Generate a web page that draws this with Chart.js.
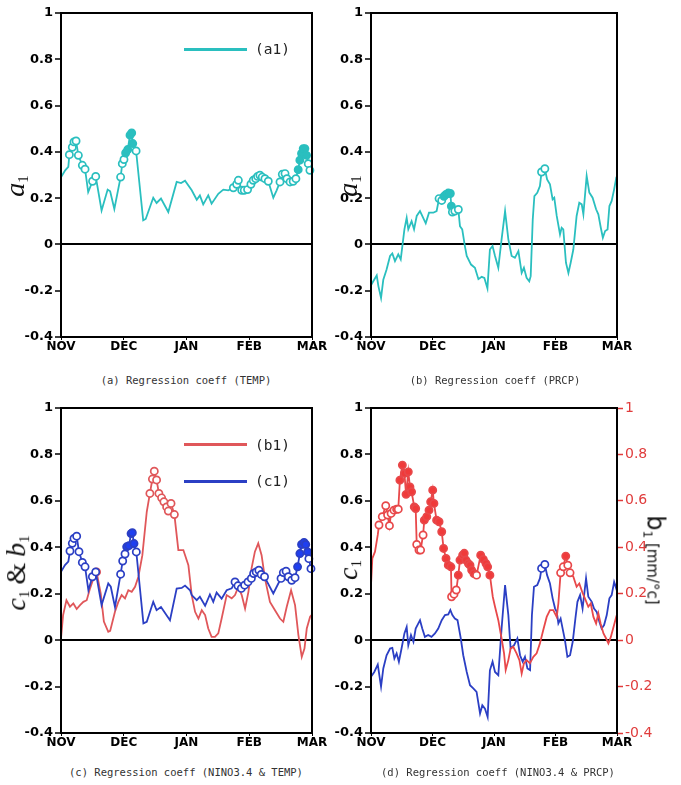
<!DOCTYPE html>
<html>
<head>
<meta charset="utf-8">
<script src="https://cdn.jsdelivr.net/npm/chart.js@4"></script>
<style>
  body { margin: 0; background: #fff; width: 681px; height: 785px; position: relative; overflow: hidden; }
  canvas { position: absolute; }
  .cap { position: absolute; font: 10.5px "DejaVu Sans Mono", monospace; color: #333; white-space: nowrap; transform: translate(-50%, -50%); line-height: 1; }
  .yt { position: absolute; font: italic 28px "Liberation Serif", "DejaVu Serif", serif; white-space: nowrap; line-height: 1; transform: translate(-50%, -50%) rotate(-90deg); color: #111; }
  .yt sub { font-size: 15px; font-style: normal; vertical-align: -0.25em; }
  .yt .amp { font-style: normal; margin: 0 6px; }
  .rt { position: absolute; white-space: nowrap; line-height: 1; transform: translate(-50%, -50%) rotate(90deg); color: #111; font: 15px "DejaVu Sans", sans-serif; }
  .rt .b { font-size: 24px; }
  .rt sub { font-size: 12px; }
  .lgl { position: absolute; height: 2.5px; width: 63px; left: 184px; }
  .lgt { position: absolute; left: 255px; font: 14.5px "DejaVu Sans Mono", monospace; color: #222; transform: translateY(-50%); line-height: 1; }
</style>
</head>
<body>
<canvas id="pa" width="340" height="365" style="left:0;top:0"></canvas>
<canvas id="pb" width="340" height="365" style="left:320px;top:0"></canvas>
<canvas id="pc" width="340" height="365" style="left:0;top:395px"></canvas>
<canvas id="pd" width="361" height="365" style="left:320px;top:395px"></canvas>

<div class="yt" style="left:16px;top:186px"><i>a</i><sub>1</sub></div>
<div class="yt" style="left:349px;top:186px"><i>a</i><sub>1</sub></div>
<div class="yt" style="left:17px;top:573px"><i>c</i><sub>1</sub><span class="amp">&amp;</span><i>b</i><sub>1</sub></div>
<div class="yt" style="left:349px;top:570px"><i>c</i><sub>1</sub></div>
<div class="rt" style="left:655px;top:560px"><span class="b">b</span><sub>1</sub> [mm/°c]</div>

<div class="lgl" style="top:48px;background:#2abfbf"></div>
<div class="lgt" style="top:49px">(a1)</div>
<div class="lgl" style="top:443px;background:#e0575a"></div>
<div class="lgt" style="top:445px">(b1)</div>
<div class="lgl" style="top:480px;background:#2b3fc4"></div>
<div class="lgt" style="top:481px">(c1)</div>

<div class="cap" style="left:186px;top:380px">(a) Regression coeff (TEMP)</div>
<div class="cap" style="left:495px;top:380px">(b) Regression coeff (PRCP)</div>
<div class="cap" style="left:186px;top:772px">(c) Regression coeff (NINO3.4 &amp; TEMP)</div>
<div class="cap" style="left:498px;top:772px">(d) Regression coeff (NINO3.4 &amp; PRCP)</div>

<script>
// eje x: días desde el 1 de noviembre
const monthLabels = ['NOV', 'DEC', 'JAN', 'FEB', 'MAR'];
const monthDays = [0, 30, 60, 90, 120];

// marcas: 0 = sin círculo, 1 = círculo abierto, 2 = círculo relleno

// (a) a1, TEMP
const a1TempDays = [0,2,3.5,4,5.4,6.2,7.2,8.3,10.2,11.5,13,15.1,16.6,19.4,22.3,23.5,25.5,28.5,29.3,30.1,30.9,31.9,33,33.8,34.3,35.9,39.3,40.5,44.1,45.7,47.8,51.3,55.3,57.4,59.3,62.5,64.9,66.4,68,70.4,72,75.2,77.6,80,82.4,84,84.8,86.4,87.6,89.2,90.8,91.9,93.1,94,95.1,96.2,97.5,99.1,101.5,103.1,104.7,105.8,107.1,108,109.5,111,112.3,113.4,114.2,115,115.8,116.6,117.4,118.2,119,120];
const a1TempVals = [0.29,0.32,0.335,0.388,0.42,0.443,0.447,0.385,0.342,0.325,0.226,0.273,0.294,0.147,0.237,0.23,0.153,0.291,0.349,0.367,0.395,0.41,0.472,0.482,0.436,0.404,0.104,0.11,0.202,0.179,0.198,0.14,0.27,0.265,0.275,0.234,0.193,0.212,0.173,0.212,0.176,0.219,0.237,0.234,0.245,0.26,0.277,0.234,0.234,0.237,0.26,0.277,0.284,0.294,0.299,0.291,0.284,0.273,0.202,0.234,0.27,0.303,0.306,0.284,0.27,0.273,0.284,0.323,0.364,0.393,0.414,0.414,0.385,0.349,0.32,0.33];
const a1TempMarks = '0001111111 0110000111 2222210000 0000000000 0000111111 1111111100 1111111222 222110';

// (b) a1, PRCP
const a1PrcpDays = [0,1.1,2.8,3.6,4.9,6,7.6,9.3,10.4,11.7,13.3,14.5,15.3,16.3,17.4,18.2,19.8,21,22.3,23.9,25,26.7,28.3,30.4,32,33.2,34.5,35.6,36.6,37.7,38.7,39.2,39.7,40.9,42.6,43.4,44.5,45.8,46.7,48.8,50.7,52.4,54,55.3,56.8,58,59.3,60.5,62.1,63.7,65.4,67,68.6,70.2,71.9,73.5,74.6,75.9,77.2,77.9,78.9,79.7,81.1,82.4,83.2,84.8,85.9,87.3,88.6,89.4,90.6,92.2,93,93.8,95.1,96.3,97.4,98.7,100.3,101.6,102.8,103.6,105.2,106.5,108.1,109.8,110.9,112.1,113.1,114.2,115.4,116.3,117.4,118.6,119.5,120];
const a1PrcpVals = [-0.177,-0.159,-0.134,-0.18,-0.231,-0.152,-0.108,-0.05,-0.039,-0.072,-0.043,-0.065,-0.007,0.065,0.115,0.065,0.1,0.065,0.123,0.144,0.123,0.091,0.137,0.137,0.144,0.198,0.19,0.208,0.216,0.222,0.22,0.165,0.14,0.144,0.151,0.079,0.065,-0.007,-0.05,-0.087,-0.101,-0.15,-0.14,-0.145,-0.19,-0.022,-0.007,-0.05,-0.101,0.022,0.144,0.022,-0.05,-0.058,-0.029,-0.123,-0.101,-0.144,-0.159,-0.137,0.108,0.209,0.223,0.252,0.313,0.327,0.281,0.26,0.195,0.202,0.123,0.043,0.072,0.065,-0.079,-0.123,-0.079,-0.022,0.123,0.18,0.173,0.13,0.296,0.224,0.202,0.152,0.13,0.072,0.029,0.058,0.065,0.166,0.188,0.238,0.281,0.27];
const a1PrcpMarks = '0000000000 0000000000 0000011222 2211100000 0000000000 0000000000 0000110000 0000000000 0000000000 000000';

// (c) b1 y c1, NINO3.4 & TEMP
const b1TempDays = [0,1,2.6,4.3,5.9,7.5,9.1,10.7,12.3,13.9,15.5,17,19,20.5,22.6,23.5,25.8,27.4,29,30.6,32.2,33.8,35.4,37,38.9,41,42.5,43.7,44.6,45.7,46.8,48.1,49.2,50.5,51.3,52.6,54.2,56.1,58.5,60.9,62.5,64.1,65.7,67.3,68.9,70.4,72,73.6,75.2,76.8,79.2,81.6,83.2,84.8,86.4,88,89.6,91.1,92.7,94.3,95.9,97.5,99.9,102.3,104.7,106.3,107.9,110,111.9,113.5,115.1,116.4,117.5,119.1,120];
const b1TempVals = [0.007,0.108,0.172,0.144,0.158,0.134,0.151,0.165,0.172,0.223,0.266,0.294,0.2,0.08,0.036,0.04,0.122,0.165,0.194,0.18,0.215,0.208,0.23,0.273,0.366,0.553,0.632,0.694,0.728,0.69,0.632,0.613,0.596,0.574,0.556,0.589,0.541,0.388,0.388,0.323,0.194,0.122,0.093,0.129,0.108,0.05,0.014,0.014,0.029,0.093,0.194,0.18,0.194,0.23,0.194,0.136,0.208,0.309,0.381,0.417,0.366,0.266,0.165,0.129,0.093,0.079,0.143,0.215,0.151,0.022,-0.072,-0.036,0.05,0.101,0.11];
const b1TempMarks = '0000000000 0100000000 0000001111 1111111000 0000000000 0000000000 0000000000 00000';

const c1TempDays = [0,1.9,3.5,4.3,5.4,6.2,7.5,8.6,10.2,11.5,13.1,15,16.6,19.4,22.6,23.8,25.8,28.5,29.5,30.6,31.4,32.5,33.5,34.1,34.9,36,39.4,41,44.1,45.7,47.8,52.1,55.3,57.7,59.3,61.7,62.5,64.9,66.4,68.9,71.2,72.8,74.4,76.8,79.2,81.6,83.2,84.6,86.2,87.8,89.4,91,92.1,93.3,94.6,95.7,97.3,101.5,103.9,105.2,106.3,107.6,108.7,110.3,111.9,113.1,114.2,115,116.2,117,117.9,118.5,119.5,120];
const c1TempVals = [0.294,0.323,0.338,0.384,0.417,0.438,0.448,0.381,0.335,0.316,0.215,0.273,0.294,0.151,0.244,0.23,0.143,0.284,0.341,0.371,0.402,0.407,0.459,0.463,0.416,0.38,0.072,0.079,0.165,0.129,0.143,0.086,0.222,0.225,0.235,0.215,0.194,0.172,0.187,0.148,0.197,0.165,0.205,0.179,0.215,0.223,0.251,0.234,0.223,0.237,0.251,0.266,0.287,0.294,0.301,0.283,0.273,0.201,0.244,0.266,0.291,0.297,0.273,0.258,0.269,0.316,0.373,0.412,0.421,0.412,0.38,0.351,0.308,0.32];
const c1TempMarks = '0001111111 0110000111 2222210000 0000000000 0000001111 1111111001 1111122222 2110';

// (d) c1 y b1, NINO3.4 & PRCP
const c1PrcpDays = [0,1.6,3.3,4.9,6,7.6,9.3,10.4,11.4,12.5,13.6,14.9,16.3,17.4,18.2,19.5,20.7,21.8,23.9,25,26.3,27.9,29.5,31.2,32.8,34.5,36.1,37.7,38.7,39.7,40.9,42.2,43.8,45,46.7,48.3,49.9,51.5,53.2,54.3,55.6,56.9,58,59.3,60.5,62.1,63.7,65.4,67,68.1,69.8,71.4,72.7,74,75.1,76.3,77.6,78.5,79.5,81.1,82.4,83.2,84.8,85.9,87.3,88.6,89.8,90.6,91.4,92.5,94.6,95.8,97.1,98.4,99.7,100.7,102,103.2,104.9,106,107.7,108.8,110.1,111.4,112.5,113.7,115,116.3,117.4,118.6,119.6,120];
const c1PrcpVals = [-0.158,-0.137,-0.105,-0.2,-0.122,-0.065,-0.036,-0.033,-0.079,-0.057,-0.093,-0.036,0.029,0.057,-0.022,0.022,-0.007,0.05,0.086,0.05,0.014,0.022,0.014,0.029,0.05,0.086,0.108,0.111,0.13,0.108,0.093,0.086,0.007,-0.065,-0.137,-0.194,-0.208,-0.223,-0.316,-0.28,-0.295,-0.331,-0.13,-0.093,-0.137,-0.151,0.05,0.237,0.108,-0.036,-0.022,0.007,-0.065,-0.093,-0.072,-0.122,-0.129,0.108,0.23,0.237,0.266,0.309,0.326,0.28,0.244,0.18,0.136,0.122,0.072,0.093,0,-0.072,-0.065,-0.007,0.093,0.165,0.194,0.136,0.266,0.187,0.165,0.136,0.122,0.079,0.05,0.065,0.108,0.18,0.194,0.251,0.223,0.25];
const c1PrcpMarks = '0000000000 0000000000 0000000000 0000000000 0000000000 0000000000 0110000000 0000000000 0000000000 00';

const b1PrcpDays = [0,0.65,1.95,3.3,3.9,5.5,7.2,8.1,9,9.8,11.2,12.5,13.3,14.1,15.3,16.3,17.1,18.2,19,19.8,21.1,21.8,22.3,23.4,24.2,25.4,26,27.2,28.3,29.1,30.1,30.7,32,33.2,34.5,35.4,36.6,37.7,39,39.3,40.5,41.6,42.6,43.4,44.7,45.5,46.3,47.5,48.3,49.1,50.2,51.5,53.5,54.8,56.1,56.9,58,59.4,60.5,62.1,63.7,64.9,65.7,67,68.1,69.4,71,72.4,73.5,74.6,75.9,77.5,79.2,80.8,82.4,84,85.7,87.3,88.9,90.6,91.4,92.5,93.8,95,96,97.1,98.7,100.3,101.6,103.3,104.4,106,107.2,108.5,109.8,110.9,112,113.4,114.7,115.8,117,118.3,119.6,120];
const b1PrcpVals = [0.237,0.352,0.381,0.453,0.496,0.532,0.579,0.539,0.493,0.546,0.56,0.564,0.564,0.689,0.754,0.718,0.628,0.725,0.66,0.639,0.574,0.567,0.412,0.388,0.388,0.453,0.517,0.532,0.56,0.596,0.646,0.589,0.517,0.51,0.467,0.395,0.352,0.323,0.316,0.187,0.198,0.216,0.28,0.345,0.366,0.374,0.345,0.33,0.323,0.302,0.287,0.28,0.366,0.348,0.33,0.316,0.28,0.187,0.144,0.086,0.007,-0.057,-0.129,-0.086,-0.036,-0.029,-0.057,-0.086,-0.144,-0.1,-0.086,-0.1,-0.072,-0.057,-0.014,0.043,0.1,0.129,0.129,0.1,0.158,0.29,0.316,0.362,0.323,0.29,0.273,0.23,0.244,0.201,0.179,0.144,0.158,0.1,0.072,0.115,0.072,0.029,0.007,-0.014,0.014,0.057,0.1,0.11];
const b1PrcpMarks = '0000111111 1112222222 2211112222 2222222221 1122222222 2122222000 0000000000 0000000000 0112110000 0000000000 0000';

const colors = {
  cyan: '#2abfbf',
  redC: '#e0575a',
  redD: '#e8484a',
  redFill: '#f03a3a',
  blue: '#2b3fc4',
  blueFill: '#1f3ff0',
  rightAxis: '#e03c3c',
};

// fuente estrecha y negrita para los ticks
const tickFont = { family: '"DejaVu Sans", sans-serif', style: 'condensed', weight: 'bold', size: 13 };
const monthFont = { family: '"DejaVu Sans", sans-serif', style: 'condensed', weight: 'bold', size: 12 };

const fmt = v => String(Math.round(v * 10) / 10);

// marco negro alrededor del área del gráfico
const frame = {
  id: 'frame',
  afterDatasetsDraw(chart) {
    const { ctx, chartArea: a } = chart;
    ctx.save();
    ctx.strokeStyle = '#000';
    ctx.lineWidth = 2;
    ctx.strokeRect(a.left, a.top, a.right - a.left, a.bottom - a.top);
    ctx.restore();
  }
};

function series(days, vals, marks, color, fill, axis) {
  const m = marks.replace(/ /g, '');
  return {
    data: days.map((d, i) => ({ x: d, y: vals[i] })),
    yAxisID: axis || 'y',
    borderColor: color,
    borderWidth: 1.8,
    tension: 0,
    pointRadius: days.map((d, i) => m[i] === '0' ? 0 : 3.6),
    pointBackgroundColor: days.map((d, i) => m[i] === '2' ? fill : '#fff'),
    pointBorderColor: color,
    pointBorderWidth: 1.7,
    clip: 6,
  };
}

function xScale(h) {
  return {
    type: 'linear', min: 0, max: 120,
    afterBuildTicks: s => { s.ticks = monthDays.map(v => ({ value: v })); },
    afterFit: s => { s.height = h; },
    grid: { drawOnChartArea: false, drawTicks: true, tickLength: 3, tickColor: '#000' },
    border: { display: false },
    ticks: { callback: (v, i) => monthLabels[i], font: monthFont, color: '#000', padding: 0, maxRotation: 0, autoSkip: false }
  };
}

function yScale(w) {
  return {
    min: -0.4, max: 1,
    afterFit: s => { s.width = w; },
    ticks: { stepSize: 0.2, callback: fmt, font: tickFont, color: '#000', padding: 2 },
    grid: {
      color: c => Math.abs(c.tick.value) < 1e-9 ? '#000' : 'rgba(0,0,0,0)',
      lineWidth: 2, tickColor: '#000', tickWidth: 1.5, tickLength: 6
    },
    border: { display: false }
  };
}

function makePanel(id, datasets, pad, yw, xh, extraScales) {
  new Chart(document.getElementById(id), {
    type: 'line',
    data: { datasets },
    options: {
      responsive: false,
      animation: false,
      layout: { padding: pad },
      plugins: { legend: { display: false }, tooltip: { enabled: false } },
      scales: Object.assign({ x: xScale(xh), y: yScale(yw) }, extraScales || {})
    },
    plugins: [frame]
  });
}

// (a)
makePanel('pa', [
  series(a1TempDays, a1TempVals, a1TempMarks, colors.cyan, colors.cyan)
], { left: 0, top: 13, right: 28, bottom: 0 }, 61, 28);

// (b)
makePanel('pb', [
  series(a1PrcpDays, a1PrcpVals, a1PrcpMarks, colors.cyan, colors.cyan)
], { left: 0, top: 13, right: 43, bottom: 0 }, 51, 28);

// (c)
makePanel('pc', [
  series(c1TempDays, c1TempVals, c1TempMarks, colors.blue, colors.blueFill),
  series(b1TempDays, b1TempVals, b1TempMarks, colors.redC, colors.redC)
], { left: 0, top: 13, right: 28, bottom: 0 }, 61, 27);

// (d) eje derecho rojo para b1
makePanel('pd', [
  series(b1PrcpDays, b1PrcpVals, b1PrcpMarks, colors.redD, colors.redFill, 'y1'),
  series(c1PrcpDays, c1PrcpVals, c1PrcpMarks, colors.blue, colors.blueFill)
], { left: 0, top: 13, right: 24, bottom: 0 }, 51, 27, {
  y1: {
    position: 'right', min: -0.4, max: 1,
    afterFit: s => { s.width = 40; },
    ticks: { stepSize: 0.2, callback: fmt, font: { family: tickFont.family, style: 'condensed', size: 14 }, color: colors.rightAxis, padding: 2 },
    grid: { drawOnChartArea: false, tickColor: colors.rightAxis, tickWidth: 1.5, tickLength: 6 },
    border: { display: false }
  }
});
</script>
</body>
</html>
